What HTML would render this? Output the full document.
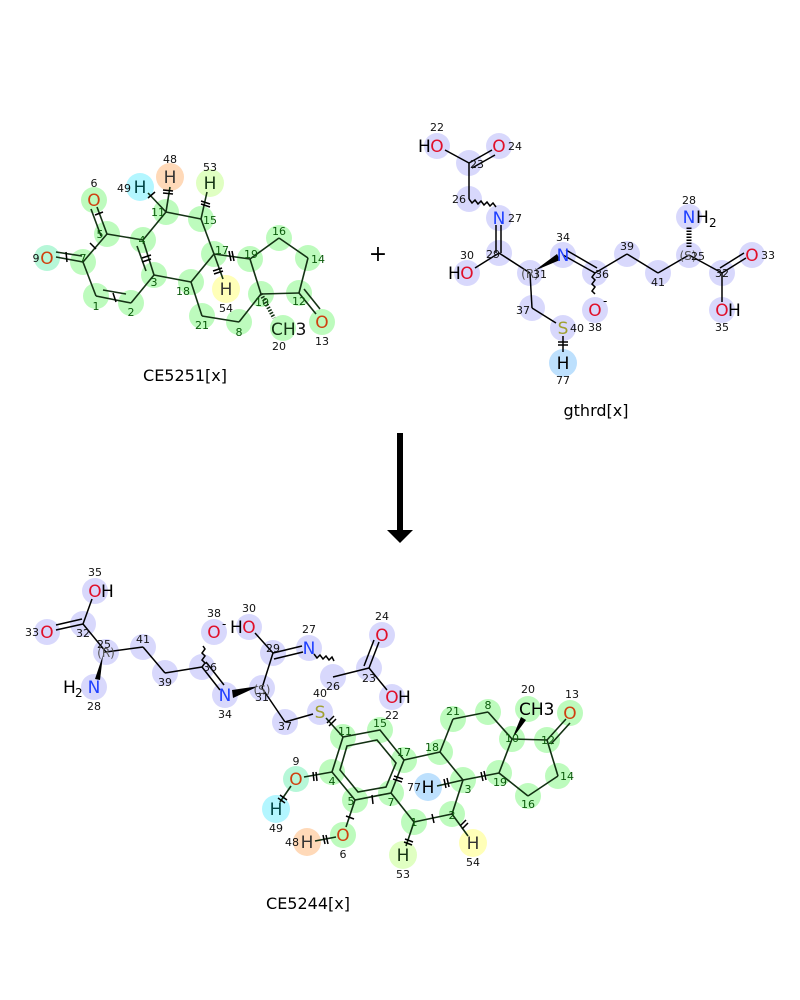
<!DOCTYPE html>
<html><head><meta charset="utf-8"><style>
html,body{margin:0;padding:0;background:#fff;width:800px;height:1000px;overflow:hidden}
svg{display:block}
text{font-family:"DejaVu Sans","Liberation Sans",sans-serif}
.n{font-size:11px;fill:#111}
.g{font-size:11px;fill:#0a5a0a}
.e{font-size:17px}
.O{fill:#e0102a}.Og{fill:#d04010}.N{fill:#2040ff}.S{fill:#a0a030}.H{fill:#000}
.st{font-size:12px;fill:#555}
</style></head><body>
<svg width="800" height="1000" viewBox="0 0 800 1000" xmlns="http://www.w3.org/2000/svg">
<!-- ===== Molecule 1 circles ===== -->
<g fill="#bdfbbd">
<circle cx="94" cy="200" r="13"/><circle cx="107" cy="234" r="13"/><circle cx="83" cy="262" r="13"/>
<circle cx="96" cy="296" r="13"/><circle cx="131" cy="303" r="13"/><circle cx="154" cy="275" r="13"/>
<circle cx="143" cy="240" r="13"/><circle cx="166" cy="212" r="13"/><circle cx="201" cy="219" r="13"/>
<circle cx="214" cy="254" r="13"/><circle cx="191" cy="282" r="13"/><circle cx="202" cy="316" r="13"/>
<circle cx="239" cy="322" r="13"/><circle cx="261" cy="294" r="13"/><circle cx="283" cy="328" r="13"/>
<circle cx="250" cy="259" r="13"/><circle cx="279" cy="238" r="13"/><circle cx="308" cy="258" r="13"/>
<circle cx="299" cy="293" r="13"/><circle cx="322" cy="322" r="13"/>
</g>
<circle cx="47" cy="258" r="13" fill="#b6f7d8"/>
<circle cx="170" cy="177" r="14" fill="#ffd9b8"/>
<circle cx="140" cy="187" r="14" fill="#b3f6ff"/>
<circle cx="210" cy="183" r="14" fill="#e0ffc2"/>
<circle cx="226" cy="289" r="14" fill="#ffffb8"/>
<!-- bonds mol1 -->
<g stroke="#153315" stroke-width="1.6" fill="none">
<line x1="107" y1="234" x2="97" y2="207"/><line x1="101" y1="236" x2="91" y2="209"/>
<line x1="107" y1="234" x2="83" y2="262"/>
<line x1="83" y1="262" x2="56" y2="257"/><line x1="82" y1="256" x2="56" y2="252"/>
<line x1="83" y1="262" x2="96" y2="296"/>
<line x1="96" y1="296" x2="131" y2="303"/><line x1="103" y1="290" x2="126" y2="294"/>
<line x1="131" y1="303" x2="154" y2="275"/>
<line x1="154" y1="275" x2="143" y2="240"/><line x1="146" y1="271" x2="137" y2="246"/>
<line x1="143" y1="240" x2="107" y2="234"/>
<line x1="143" y1="240" x2="166" y2="212"/>
<line x1="166" y1="212" x2="170" y2="187"/><line x1="166" y1="212" x2="148" y2="193"/>
<line x1="166" y1="212" x2="201" y2="219"/>
<line x1="201" y1="219" x2="207" y2="192"/>
<line x1="201" y1="219" x2="214" y2="254"/>
<line x1="214" y1="254" x2="223" y2="279"/>
<line x1="214" y1="254" x2="191" y2="282"/>
<line x1="191" y1="282" x2="154" y2="275"/>
<line x1="214" y1="254" x2="250" y2="259"/>
<line x1="191" y1="282" x2="202" y2="316"/>
<line x1="202" y1="316" x2="239" y2="322"/>
<line x1="239" y1="322" x2="261" y2="294"/>
<line x1="261" y1="294" x2="250" y2="259"/>
<line x1="250" y1="259" x2="279" y2="238"/>
<line x1="279" y1="238" x2="308" y2="258"/>
<line x1="308" y1="258" x2="299" y2="293"/>
<line x1="299" y1="293" x2="261" y2="294"/>
<line x1="299" y1="293" x2="316" y2="314"/><line x1="304" y1="289" x2="320" y2="309"/>
<line x1="261" y1="294" x2="274" y2="318" stroke-dasharray="1.5 1.5" stroke-width="4"/>
</g>
<g stroke="#000" stroke-width="1.5">
<line x1="95" y1="215" x2="103" y2="212"/><line x1="90" y1="243" x2="96" y2="249"/><line x1="66" y1="252" x2="67" y2="262"/>
<line x1="113" y1="293" x2="116" y2="302"/><line x1="142" y1="262" x2="151" y2="259"/><line x1="142" y1="258" x2="151" y2="255"/>
<line x1="163" y1="190" x2="173" y2="191"/><line x1="163" y1="193" x2="173" y2="194"/><line x1="148" y1="198" x2="155" y2="192"/>
<line x1="201" y1="201" x2="210" y2="204"/><line x1="201" y1="204" x2="210" y2="207"/>
<line x1="213" y1="271" x2="222" y2="268"/><line x1="214" y1="274" x2="223" y2="271"/>
<line x1="229" y1="251" x2="231" y2="261"/><line x1="232" y1="251" x2="234" y2="261"/>
</g>
<text x="94" y="206" class="e Og" text-anchor="middle">O</text><text x="94" y="187" class="n" text-anchor="middle">6</text>
<text x="47" y="264" class="e Og" text-anchor="middle">O</text><text x="36" y="262" class="n" text-anchor="middle">9</text>
<text x="170" y="183" class="e" fill="#333" text-anchor="middle">H</text><text x="170" y="163" class="n" text-anchor="middle">48</text>
<text x="140" y="193" class="e" fill="#044" text-anchor="middle">H</text><text x="124" y="192" class="n" text-anchor="middle">49</text>
<text x="210" y="189" class="e" fill="#153315" text-anchor="middle">H</text><text x="210" y="171" class="n" text-anchor="middle">53</text>
<text x="226" y="295" class="e" fill="#333" text-anchor="middle">H</text><text x="226" y="312" class="n" text-anchor="middle">54</text>
<text x="271" y="335" class="e" fill="#153315">CH<tspan fill="#111">3</tspan></text><text x="279" y="350" class="n" text-anchor="middle">20</text>
<text x="322" y="328" class="e Og" text-anchor="middle">O</text><text x="322" y="345" class="n" text-anchor="middle">13</text>
<g class="g" text-anchor="middle">
<text x="100" y="238">5</text><text x="83" y="262">7</text><text x="96" y="310">1</text><text x="131" y="316">2</text>
<text x="154" y="286">3</text><text x="142" y="244">4</text><text x="158" y="216">11</text><text x="210" y="224">15</text>
<text x="222" y="254">17</text><text x="183" y="295">18</text><text x="202" y="329">21</text><text x="239" y="336">8</text>
<text x="262" y="306">10</text><text x="251" y="258">19</text><text x="279" y="235">16</text><text x="318" y="263">14</text><text x="299" y="305">12</text>
</g>
<text x="185" y="381" font-size="16" text-anchor="middle" fill="#000">CE5251[x]</text>
<text x="378" y="261" font-size="22" text-anchor="middle" fill="#000">+</text>

<!-- ===== Molecule 2 ===== -->
<g fill="#d8d8fc">
<circle cx="437" cy="146" r="13"/><circle cx="469" cy="163" r="13"/><circle cx="499" cy="146" r="13"/>
<circle cx="469" cy="199" r="13"/><circle cx="499" cy="218" r="13"/><circle cx="499" cy="253" r="13"/>
<circle cx="467" cy="273" r="13"/><circle cx="530" cy="273" r="13"/><circle cx="563" cy="255" r="13"/>
<circle cx="595" cy="273" r="13"/><circle cx="595" cy="310" r="13"/><circle cx="627" cy="254" r="13"/>
<circle cx="658" cy="273" r="13"/><circle cx="689" cy="255" r="13"/><circle cx="689" cy="217" r="13"/>
<circle cx="722" cy="273" r="13"/><circle cx="752" cy="255" r="13"/><circle cx="722" cy="310" r="13"/>
<circle cx="532" cy="308" r="13"/><circle cx="563" cy="328" r="13"/>
</g>
<circle cx="563" cy="363" r="14" fill="#bde0fd"/>
<g stroke="#000" stroke-width="1.5" fill="none">
<line x1="445" y1="150" x2="469" y2="163"/>
<line x1="469" y1="163" x2="492" y2="150"/><line x1="472" y1="168" x2="495" y2="155"/>
<line x1="469" y1="163" x2="469" y2="199"/>
<path d="M469,199 l3,4 l3,-3 l3,4 l3,-3 l3,4 l3,-3 l3,4 l3,-3 l3,4"/>
<line x1="496" y1="225" x2="496" y2="253"/><line x1="501" y1="225" x2="501" y2="253"/>
<line x1="499" y1="253" x2="475" y2="268"/>
<line x1="499" y1="253" x2="530" y2="273"/>
<line x1="563" y1="255" x2="595" y2="273"/><line x1="566" y1="250" x2="597" y2="268"/>
<path d="M595,273 l-3,4 l3,3 l-3,4 l3,3 l-3,4 l3,3"/>
<line x1="595" y1="273" x2="627" y2="254"/>
<line x1="627" y1="254" x2="658" y2="273"/>
<line x1="658" y1="273" x2="689" y2="255"/>
<line x1="689" y1="255" x2="722" y2="273"/>
<line x1="722" y1="273" x2="746" y2="258"/><line x1="720" y1="268" x2="744" y2="253"/>
<line x1="722" y1="273" x2="722" y2="302"/>
<line x1="530" y1="273" x2="532" y2="308"/>
<line x1="532" y1="308" x2="556" y2="323"/>
<line x1="563" y1="336" x2="563" y2="352"/>
<line x1="689" y1="247" x2="689" y2="226" stroke-dasharray="1.5 1.5" stroke-width="5"/>
</g>
<polygon points="534,271 557,254 560,260" fill="#000"/>
<g stroke="#000" stroke-width="1.5"><line x1="558" y1="342" x2="568" y2="342"/><line x1="558" y1="345" x2="568" y2="345"/></g>
<text x="418" y="152" class="e H">H</text><text x="437" y="152" class="e O" text-anchor="middle">O</text><text x="437" y="131" class="n" text-anchor="middle">22</text>
<text x="499" y="152" class="e O" text-anchor="middle">O</text><text x="508" y="150" class="n">24</text>
<text x="499" y="224" class="e N" text-anchor="middle">N</text><text x="508" y="222" class="n">27</text>
<text x="448" y="279" class="e H">H</text><text x="467" y="279" class="e O" text-anchor="middle">O</text><text x="467" y="259" class="n" text-anchor="middle">30</text>
<text x="563" y="261" class="e N" text-anchor="middle">N</text><text x="563" y="241" class="n" text-anchor="middle">34</text>
<text x="595" y="316" class="e O" text-anchor="middle">O</text><text x="603" y="305" font-size="12" fill="#000">-</text><text x="595" y="331" class="n" text-anchor="middle">38</text>
<text x="689" y="223" class="e N" text-anchor="middle">N</text><text x="696" y="223" class="e H">H</text><text x="709" y="227" font-size="12" fill="#000">2</text><text x="689" y="204" class="n" text-anchor="middle">28</text>
<text x="752" y="261" class="e O" text-anchor="middle">O</text><text x="761" y="259" class="n">33</text>
<text x="722" y="316" class="e O" text-anchor="middle">O</text><text x="728" y="316" class="e H">H</text><text x="722" y="331" class="n" text-anchor="middle">35</text>
<text x="563" y="334" class="e S" text-anchor="middle">S</text><text x="570" y="332" class="n">40</text>
<text x="563" y="369" class="e" fill="#000" text-anchor="middle">H</text><text x="563" y="384" class="n" text-anchor="middle">77</text>
<g class="n" text-anchor="middle">
<text x="477" y="168">23</text><text x="459" y="203">26</text><text x="493" y="258">29</text>
<text x="530" y="278" class="st">(R)</text><text x="540" y="278">31</text>
<text x="602" y="278">36</text><text x="627" y="250">39</text><text x="658" y="286">41</text>
<text x="688" y="260" class="st">(S)</text><text x="698" y="260">25</text><text x="722" y="277">32</text><text x="523" y="314">37</text>
</g>
<text x="596" y="416" font-size="16" text-anchor="middle" fill="#000">gthrd[x]</text>

<rect x="397" y="433" width="6" height="98" fill="#000"/>
<polygon points="387,530 413,530 400,543" fill="#000"/>

<!-- ===== Product ===== -->
<g fill="#d8d8fc">
<circle cx="95" cy="591" r="13"/><circle cx="83" cy="624" r="13"/><circle cx="47" cy="632" r="13"/>
<circle cx="106" cy="652" r="13"/><circle cx="94" cy="687" r="13"/><circle cx="143" cy="647" r="13"/>
<circle cx="165" cy="673" r="13"/><circle cx="202" cy="667" r="13"/><circle cx="214" cy="632" r="13"/>
<circle cx="225" cy="695" r="13"/><circle cx="262" cy="688" r="13"/><circle cx="273" cy="653" r="13"/>
<circle cx="249" cy="627" r="13"/><circle cx="309" cy="648" r="13"/><circle cx="333" cy="677" r="13"/>
<circle cx="369" cy="668" r="13"/><circle cx="382" cy="635" r="13"/><circle cx="392" cy="697" r="13"/>
<circle cx="285" cy="722" r="13"/><circle cx="320" cy="712" r="13"/>
</g>
<g fill="#bdfbbd">
<circle cx="343" cy="737" r="13"/><circle cx="380" cy="730" r="13"/><circle cx="404" cy="760" r="13"/>
<circle cx="332" cy="772" r="13"/><circle cx="355" cy="800" r="13"/><circle cx="343" cy="835" r="13"/>
<circle cx="391" cy="793" r="13"/><circle cx="414" cy="822" r="13"/><circle cx="452" cy="814" r="13"/>
<circle cx="463" cy="780" r="13"/><circle cx="440" cy="752" r="13"/><circle cx="453" cy="719" r="13"/>
<circle cx="488" cy="712" r="13"/><circle cx="512" cy="739" r="13"/><circle cx="528" cy="709" r="13"/>
<circle cx="547" cy="740" r="13"/><circle cx="570" cy="713" r="13"/><circle cx="558" cy="776" r="13"/>
<circle cx="528" cy="796" r="13"/><circle cx="499" cy="773" r="13"/>
</g>
<circle cx="296" cy="779" r="13" fill="#b6f7d8"/>
<circle cx="276" cy="809" r="14" fill="#b3f6ff"/>
<circle cx="307" cy="842" r="14" fill="#ffd9b8"/>
<circle cx="403" cy="855" r="14" fill="#e0ffc2"/>
<circle cx="473" cy="843" r="14" fill="#ffffb8"/>
<circle cx="428" cy="787" r="14" fill="#bde0fd"/>
<g stroke="#000" stroke-width="1.5" fill="none">
<line x1="92" y1="599" x2="83" y2="624"/>
<line x1="83" y1="624" x2="56" y2="630"/><line x1="82" y1="619" x2="56" y2="625"/>
<line x1="83" y1="624" x2="106" y2="652"/>
<line x1="106" y1="652" x2="143" y2="647"/>
<line x1="143" y1="647" x2="165" y2="673"/>
<line x1="165" y1="673" x2="202" y2="667"/>
<path d="M202,667 l3,-4 l-3,-3 l3,-4 l-3,-3 l3,-4 l-2,-3"/>
<line x1="202" y1="667" x2="220" y2="690"/><line x1="206" y1="662" x2="224" y2="685"/>
<line x1="262" y1="688" x2="273" y2="653"/>
<line x1="273" y1="653" x2="255" y2="633"/>
<line x1="273" y1="653" x2="302" y2="646"/><line x1="274" y1="659" x2="303" y2="652"/>
<path d="M314,654 l3,4 l3,-3 l3,4 l3,-3 l3,4 l3,-3 l2,4"/>
<line x1="333" y1="677" x2="369" y2="668"/>
<line x1="369" y1="668" x2="379" y2="642"/><line x1="364" y1="666" x2="374" y2="640"/>
<line x1="369" y1="668" x2="387" y2="690"/>
<line x1="262" y1="688" x2="285" y2="722"/>
<line x1="285" y1="722" x2="313" y2="714"/>
</g>
<polygon points="103,655 95,679 100,680" fill="#000"/>
<polygon points="259,686 232,690 233,698" fill="#000"/>
<g stroke="#123012" stroke-width="1.6" fill="none">
<line x1="326" y1="718" x2="343" y2="737"/>
<polygon points="343,737 380,730 404,760 391,793 355,800 332,772"/>
<polygon points="347,746 377,740 396,763 386,787 358,792 340,770"/>
<line x1="332" y1="772" x2="304" y2="777"/><line x1="291" y1="786" x2="280" y2="802"/>
<line x1="355" y1="800" x2="346" y2="827"/><line x1="336" y1="837" x2="315" y2="841"/>
<line x1="391" y1="793" x2="414" y2="822"/>
<line x1="414" y1="822" x2="406" y2="846"/>
<line x1="414" y1="822" x2="452" y2="814"/>
<line x1="452" y1="814" x2="468" y2="836"/>
<line x1="452" y1="814" x2="463" y2="780"/>
<line x1="463" y1="780" x2="437" y2="786"/>
<line x1="463" y1="780" x2="440" y2="752"/>
<line x1="440" y1="752" x2="404" y2="760"/>
<line x1="440" y1="752" x2="453" y2="719"/>
<line x1="453" y1="719" x2="488" y2="712"/>
<line x1="488" y1="712" x2="512" y2="739"/>
<line x1="512" y1="739" x2="499" y2="773"/>
<line x1="499" y1="773" x2="463" y2="780"/>
<line x1="499" y1="773" x2="528" y2="796"/>
<line x1="528" y1="796" x2="558" y2="776"/>
<line x1="558" y1="776" x2="547" y2="740"/>
<line x1="547" y1="740" x2="512" y2="739"/>
<line x1="547" y1="740" x2="566" y2="719"/><line x1="551" y1="744" x2="570" y2="723"/>
</g>
<polygon points="512,739 521,717 526,720" fill="#000"/>
<g stroke="#000" stroke-width="1.5">
<line x1="327" y1="723" x2="334" y2="716"/><line x1="329" y1="726" x2="336" y2="719"/>
<line x1="313" y1="772" x2="314" y2="781"/><line x1="316" y1="772" x2="317" y2="781"/>
<line x1="280" y1="795" x2="287" y2="800"/><line x1="278" y1="798" x2="285" y2="803"/>
<line x1="346" y1="816" x2="354" y2="819"/>
<line x1="323" y1="835" x2="325" y2="844"/><line x1="326" y1="835" x2="328" y2="844"/>
<line x1="394" y1="776" x2="403" y2="779"/><line x1="393" y1="779" x2="402" y2="782"/>
<line x1="372" y1="795" x2="373" y2="804"/><line x1="432" y1="814" x2="434" y2="823"/>
<line x1="405" y1="839" x2="413" y2="842"/><line x1="404" y1="842" x2="412" y2="845"/>
<line x1="460" y1="826" x2="466" y2="820"/><line x1="462" y1="829" x2="468" y2="823"/>
<line x1="444" y1="779" x2="446" y2="788"/><line x1="447" y1="778" x2="449" y2="787"/>
<line x1="481" y1="772" x2="483" y2="781"/><line x1="484" y1="771" x2="486" y2="780"/>
</g>
<text x="95" y="597" class="e O" text-anchor="middle">O</text><text x="101" y="597" class="e H">H</text><text x="95" y="576" class="n" text-anchor="middle">35</text>
<text x="47" y="638" class="e O" text-anchor="middle">O</text><text x="32" y="636" class="n" text-anchor="middle">33</text>
<text x="94" y="693" class="e N" text-anchor="middle">N</text><text x="63" y="693" class="e H">H</text><text x="75" y="697" font-size="12" fill="#000">2</text><text x="94" y="710" class="n" text-anchor="middle">28</text>
<text x="214" y="638" class="e O" text-anchor="middle">O</text><text x="222" y="628" font-size="12" fill="#000">-</text><text x="214" y="617" class="n" text-anchor="middle">38</text>
<text x="230" y="633" class="e H">H</text><text x="249" y="633" class="e O" text-anchor="middle">O</text><text x="249" y="612" class="n" text-anchor="middle">30</text>
<text x="309" y="654" class="e N" text-anchor="middle">N</text><text x="309" y="633" class="n" text-anchor="middle">27</text>
<text x="225" y="701" class="e N" text-anchor="middle">N</text><text x="225" y="718" class="n" text-anchor="middle">34</text>
<text x="382" y="641" class="e O" text-anchor="middle">O</text><text x="382" y="620" class="n" text-anchor="middle">24</text>
<text x="392" y="703" class="e O" text-anchor="middle">O</text><text x="398" y="703" class="e H">H</text><text x="392" y="719" class="n" text-anchor="middle">22</text>
<text x="320" y="718" class="e S" text-anchor="middle">S</text><text x="320" y="697" class="n" text-anchor="middle">40</text>
<text x="296" y="785" class="e Og" text-anchor="middle">O</text><text x="296" y="765" class="n" text-anchor="middle">9</text>
<text x="276" y="815" class="e" fill="#044" text-anchor="middle">H</text><text x="276" y="832" class="n" text-anchor="middle">49</text>
<text x="343" y="841" class="e Og" text-anchor="middle">O</text><text x="343" y="858" class="n" text-anchor="middle">6</text>
<text x="307" y="848" class="e" fill="#333" text-anchor="middle">H</text><text x="292" y="846" class="n" text-anchor="middle">48</text>
<text x="403" y="861" class="e" fill="#153315" text-anchor="middle">H</text><text x="403" y="878" class="n" text-anchor="middle">53</text>
<text x="473" y="849" class="e" fill="#333" text-anchor="middle">H</text><text x="473" y="866" class="n" text-anchor="middle">54</text>
<text x="428" y="793" class="e" fill="#000" text-anchor="middle">H</text><text x="414" y="791" class="n" text-anchor="middle">77</text>
<text x="519" y="715" class="e" fill="#000">CH<tspan>3</tspan></text><text x="528" y="693" class="n" text-anchor="middle">20</text>
<text x="570" y="719" class="e Og" text-anchor="middle">O</text><text x="572" y="698" class="n" text-anchor="middle">13</text>
<g class="n" text-anchor="middle">
<text x="83" y="637">32</text><text x="104" y="648">25</text><text x="106" y="657" class="st">(R)</text>
<text x="143" y="643">41</text><text x="165" y="686">39</text><text x="210" y="671">36</text>
<text x="273" y="652">29</text><text x="262" y="694" class="st">(S)</text><text x="262" y="701">31</text>
<text x="333" y="690">26</text><text x="369" y="682">23</text><text x="285" y="730">37</text>
</g>
<g class="g" text-anchor="middle">
<text x="345" y="735">11</text><text x="380" y="727">15</text><text x="404" y="756">17</text>
<text x="332" y="785">4</text><text x="351" y="805">5</text><text x="391" y="806">7</text>
<text x="414" y="826">1</text><text x="452" y="819">2</text><text x="468" y="793">3</text>
<text x="432" y="751">18</text><text x="453" y="715">21</text><text x="488" y="709">8</text>
<text x="512" y="742">10</text><text x="548" y="744">12</text><text x="567" y="780">14</text>
<text x="528" y="808">16</text><text x="500" y="786">19</text>
</g>
<text x="308" y="909" font-size="16" text-anchor="middle" fill="#000">CE5244[x]</text>
</svg>
</body></html>
